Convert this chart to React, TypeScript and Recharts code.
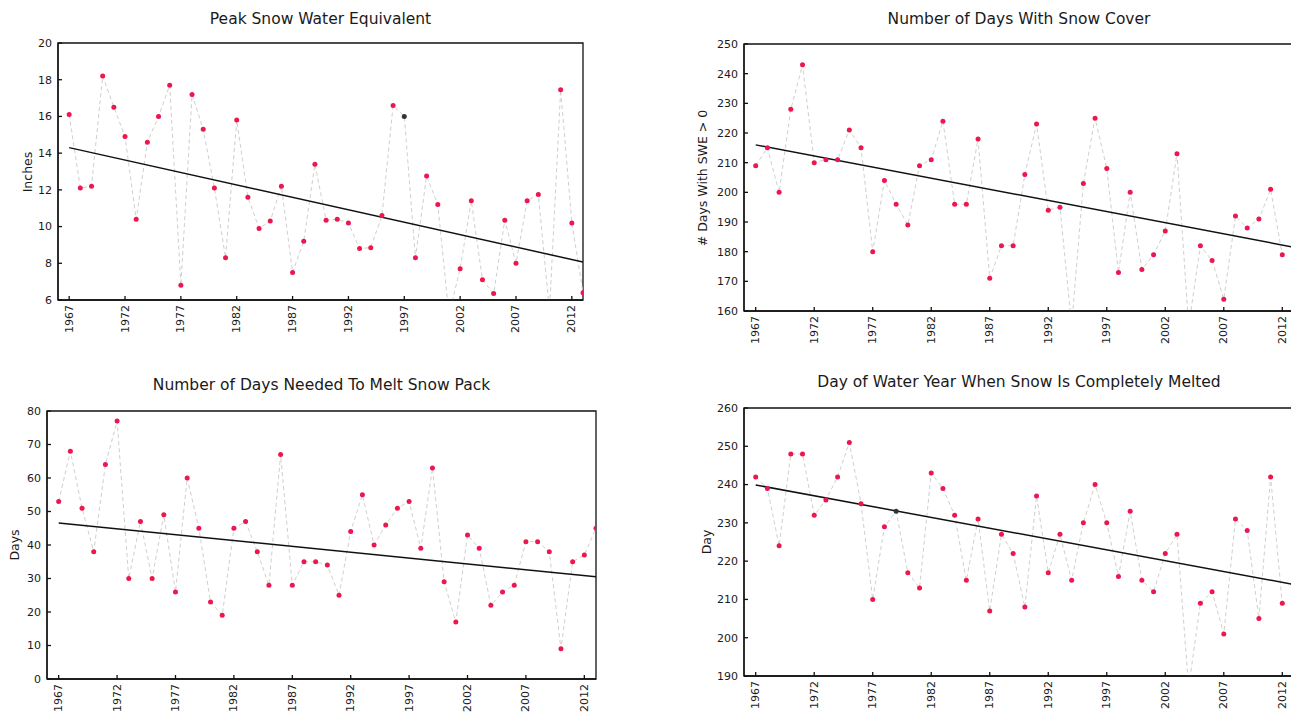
import React from "react";
import { LineChart, Line, XAxis, YAxis, ReferenceArea } from "recharts";

// ---------- data ----------
const yearsFull = [
  1967, 1968, 1969, 1970, 1971, 1972, 1973, 1974, 1975, 1976,
  1977, 1978, 1979, 1980, 1981, 1982, 1983, 1984, 1985, 1986,
  1987, 1988, 1989, 1990, 1991, 1992, 1993, 1994, 1995, 1996,
  1997, 1998, 1999, 2000, 2001, 2002, 2003, 2004, 2005, 2006,
  2007, 2008, 2009, 2010, 2011, 2012, 2013,
];
const xTicks = [1967, 1972, 1977, 1982, 1987, 1992, 1997, 2002, 2007, 2012];

const peakSwe = [
  16.1, 12.1, 12.2, 18.2, 16.5, 14.9, 10.4, 14.6, 16.0, 17.7,
  6.8, 17.2, 15.3, 12.1, 8.3, 15.8, 11.6, 9.9, 10.3, 12.2,
  7.5, 9.2, 13.4, 10.35, 10.4, 10.2, 8.8, 8.85, 10.6, 16.6,
  16.0, 8.3, 12.75, 11.2, 5.2, 7.7, 11.4, 7.1, 6.35, 10.35,
  8.0, 11.4, 11.75, 5.4, 17.45, 10.2, 6.4,
];
const snowCoverDays = [
  209, 215, 200, 228, 243, 210, 211, 211, 221, 215,
  180, 204, 196, 189, 209, 211, 224, 196, 196, 218,
  171, 182, 182, 206, 223, 194, 195, 155, 203, 225,
  208, 173, 200, 174, 179, 187, 213, 155, 182, 177,
  164, 192, 188, 191, 201, 179,
];
const meltDays = [
  53, 68, 51, 38, 64, 77, 30, 47, 30, 49,
  26, 60, 45, 23, 19, 45, 47, 38, 28, 67,
  28, 35, 35, 34, 25, 44, 55, 40, 46, 51,
  53, 39, 63, 29, 17, 43, 39, 22, 26, 28,
  41, 41, 38, 9, 35, 37, 45,
];
const meltOutDay = [
  242, 239, 224, 248, 248, 232, 236, 242, 251, 235,
  210, 229, 233, 217, 213, 243, 239, 232, 215, 231,
  207, 227, 222, 208, 237, 217, 227, 215, 230, 240,
  230, 216, 233, 215, 212, 222, 227, 187, 209, 212,
  201, 231, 228, 205, 242, 209,
];

const trendYears = [1967, 2013];
const trendSwe = [14.3, 8.07];
const trendCover = [216.0, 181.5];
const trendMelt = [46.6, 30.5];
const trendMeltOut = [239.9, 213.9];

const darkYearsSwe = [1997];
const darkYearsMeltOut = [1979];

const ticksSwe = [6, 8, 10, 12, 14, 16, 18, 20];
const ticksCover = [160, 170, 180, 190, 200, 210, 220, 230, 240, 250];
const ticksMelt = [0, 10, 20, 30, 40, 50, 60, 70, 80];
const ticksMeltOut = [190, 200, 210, 220, 230, 240, 250, 260];

const xDomain: [number, number] = [1966, 2013];

// ---------- helpers ----------
const FONT = "'DejaVu Sans', sans-serif";
const TEXT = "#1a1a1a";
const POINT = "#ec1650";

function rows(values: number[]) {
  return values.map((v, i) => ({ year: yearsFull[i], v }));
}
function trendRows(vals: number[]) {
  return vals.map((t, i) => ({ year: trendYears[i], t }));
}

const RotTick = (props: any) => {
  const { x, y, payload } = props;
  return (
    <text
      x={x}
      y={y}
      transform={`rotate(-90 ${x} ${y})`}
      textAnchor="end"
      dominantBaseline="central"
      fontSize={11}
      fill={TEXT}
      fontFamily={FONT}
    >
      {payload.value}
    </text>
  );
};

const NoLabel = () => <g />;

type PanelProps = {
  left: number;
  top: number;
  width: number;
  height: number;
  marginTop: number;
  marginRight: number;
  yWidth: number;
  values: number[];
  trend: number[];
  yDomain: [number, number];
  yTicks: number[];
  darkYears: number[];
  title: string;
  titleTop: number;
  yLabel: string;
  yLabelX: number;
};

function Panel(p: PanelProps) {
  const xH = 45;
  const plotLeft = p.left + p.yWidth;
  const plotRight = p.left + p.width - p.marginRight;
  const plotTop = p.top + p.marginTop;
  const plotBottom = p.top + p.height - xH;
  const data = rows(p.values);
  const tr = trendRows(p.trend);
  const renderDot = (d: any) => {
    const dark = p.darkYears.includes(d.payload.year);
    return (
      <circle
        key={`d-${d.index}`}
        cx={d.cx}
        cy={d.cy}
        r={2.5}
        fill={dark ? "#333" : POINT}
        stroke="none"
      />
    );
  };
  return (
    <>
      <div
        style={{
          position: "absolute",
          left: plotLeft - 100,
          width: plotRight - plotLeft + 200,
          top: p.titleTop,
          textAlign: "center",
          fontFamily: FONT,
          fontSize: 15.5,
          color: TEXT,
          whiteSpace: "nowrap",
        }}
      >
        {p.title}
      </div>
      <div
        style={{
          position: "absolute",
          left: p.yLabelX - 150,
          width: 300,
          top: (plotTop + plotBottom) / 2 - 8,
          height: 16,
          lineHeight: "16px",
          textAlign: "center",
          transform: "rotate(-90deg)",
          fontFamily: FONT,
          fontSize: 12.5,
          color: TEXT,
          whiteSpace: "nowrap",
        }}
      >
        {p.yLabel}
      </div>
      <div style={{ position: "absolute", left: p.left, top: p.top }}>
        <LineChart
          width={p.width}
          height={p.height}
          margin={{ top: p.marginTop, right: p.marginRight, left: 0, bottom: 0 }}
        >
          <XAxis
            dataKey="year"
            type="number"
            domain={xDomain}
            ticks={xTicks}
            interval={0}
            allowDataOverflow
            height={xH}
            tick={<RotTick />}
            tickSize={-4}
            tickMargin={9}
            stroke="#111"
            strokeWidth={1.3}
          />
          <XAxis
            xAxisId="top"
            orientation="top"
            dataKey="year"
            type="number"
            domain={xDomain}
            ticks={xTicks}
            interval={0}
            allowDataOverflow
            height={0}
            tick={<NoLabel />}
            tickSize={-4}
            stroke="#111"
            strokeWidth={1.3}
          />
          <YAxis
            type="number"
            domain={p.yDomain}
            ticks={p.yTicks}
            interval={0}
            allowDataOverflow
            width={p.yWidth}
            tickSize={-4}
            tickMargin={10}
            tick={{ fontSize: 11, fill: TEXT, fontFamily: FONT }}
            stroke="#111"
            strokeWidth={1.3}
          />
          <YAxis
            yAxisId="right"
            orientation="right"
            type="number"
            domain={p.yDomain}
            ticks={p.yTicks}
            interval={0}
            allowDataOverflow
            width={0}
            tick={<NoLabel />}
            tickSize={-4}
            stroke="#111"
            strokeWidth={1.3}
          />
          <ReferenceArea
            x1={xDomain[0]}
            x2={xDomain[1]}
            y1={p.yDomain[0]}
            y2={p.yDomain[1]}
            fill="none"
            fillOpacity={0}
            stroke="#111"
            strokeWidth={1.3}
            ifOverflow="visible"
          />
          <Line
            data={data}
            dataKey="v"
            stroke="#cfcfcf"
            strokeWidth={1}
            strokeDasharray="4 3"
            dot={renderDot}
            activeDot={false}
            isAnimationActive={false}
          />
          <Line
            data={tr}
            dataKey="t"
            xAxisId="top"
            yAxisId="right"
            stroke="#111"
            strokeWidth={1.5}
            dot={false}
            activeDot={false}
            isAnimationActive={false}
          />
        </LineChart>
      </div>
    </>
  );
}

export default function App() {
  return (
    <div
      style={{
        position: "fixed",
        left: 0,
        top: 0,
        width: 1291,
        height: 724,
        overflow: "hidden",
        background: "#fff",
      }}
    >
      <Panel
        left={0}
        top={30}
        width={600}
        height={315}
        marginTop={13}
        marginRight={17}
        yWidth={58}
        values={peakSwe}
        trend={trendSwe}
        yDomain={[6, 20]}
        yTicks={ticksSwe}
        darkYears={darkYearsSwe}
        title="Peak Snow Water Equivalent"
        titleTop={10}
        yLabel="Inches"
        yLabelX={28}
      />
      <Panel
        left={684}
        top={30}
        width={620}
        height={326}
        marginTop={14}
        marginRight={10}
        yWidth={60}
        values={snowCoverDays}
        trend={trendCover}
        yDomain={[160, 250]}
        yTicks={ticksCover}
        darkYears={[]}
        title="Number of Days With Snow Cover"
        titleTop={10}
        yLabel="# Days With SWE > 0"
        yLabelX={703}
      />
      <Panel
        left={0}
        top={395}
        width={606}
        height={329}
        marginTop={16}
        marginRight={10}
        yWidth={47}
        values={meltDays}
        trend={trendMelt}
        yDomain={[0, 80]}
        yTicks={ticksMelt}
        darkYears={[]}
        title="Number of Days Needed To Melt Snow Pack"
        titleTop={376}
        yLabel="Days"
        yLabelX={15}
      />
      <Panel
        left={684}
        top={395}
        width={620}
        height={326}
        marginTop={13}
        marginRight={10}
        yWidth={60}
        values={meltOutDay}
        trend={trendMeltOut}
        yDomain={[190, 260]}
        yTicks={ticksMeltOut}
        darkYears={darkYearsMeltOut}
        title="Day of Water Year When Snow Is Completely Melted"
        titleTop={373}
        yLabel="Day"
        yLabelX={707}
      />
    </div>
  );
}
